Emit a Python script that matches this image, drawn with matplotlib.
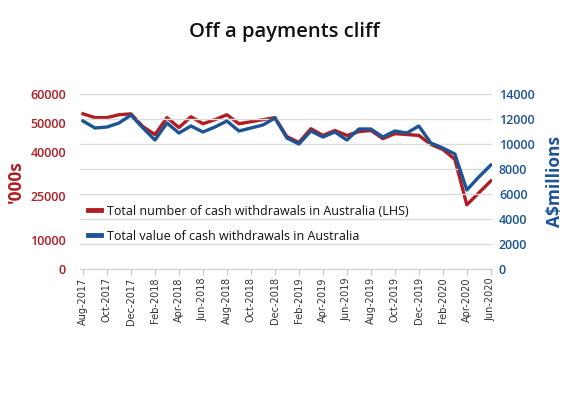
import matplotlib.pyplot as plt

months = ['Aug-2017', 'Sep-2017', 'Oct-2017', 'Nov-2017', 'Dec-2017', 'Jan-2018',
          'Feb-2018', 'Mar-2018', 'Apr-2018', 'May-2018', 'Jun-2018', 'Jul-2018',
          'Aug-2018', 'Sep-2018', 'Oct-2018', 'Nov-2018', 'Dec-2018', 'Jan-2019',
          'Feb-2019', 'Mar-2019', 'Apr-2019', 'May-2019', 'Jun-2019', 'Jul-2019',
          'Aug-2019', 'Sep-2019', 'Oct-2019', 'Nov-2019', 'Dec-2019', 'Jan-2020',
          'Feb-2020', 'Mar-2020', 'Apr-2020', 'May-2020', 'Jun-2020']

# number of withdrawals, '000s (LHS)
withdrawals_number = [53200, 51900, 51900, 52900, 53200, 48800, 46100, 51900, 48500, 52200,
                      49800, 51200, 52900, 49800, 50500, 51200, 51900, 45400, 43400, 48100,
                      45800, 47500, 45800, 47100, 47500, 44700, 46400, 46100, 45800, 42700,
                      41000, 37600, 22000, 26100, 30200]

# value of withdrawals, A$ millions (RHS)
withdrawals_value = [11840, 11280, 11360, 11680, 12320, 11280, 10320, 11680, 10880, 11440,
                     10960, 11360, 11840, 11040, 11280, 11520, 12080, 10480, 10000, 11040,
                     10560, 10960, 10320, 11200, 11200, 10560, 11040, 10880, 11440, 10080,
                     9680, 9200, 6320, 7360, 8320]

left_ticks = [0, 10000, 25000, 40000, 50000, 60000]
right_ticks = [0, 2000, 4000, 6000, 8000, 10000, 12000, 14000]

RED = '#b01e23'
BLUE = '#1d5496'

plt.rcParams['font.family'] = ['Open Sans', 'DejaVu Sans']

fig = plt.figure(figsize=(5.69, 3.98), dpi=100)
ax = fig.add_axes([0.1406, 0.3241, 0.7241, 0.4397])
ax2 = ax.twinx()

x = list(range(len(months)))

ax2.set_ylim(0, 14000)
ax2.set_yticks(right_ticks)
ax2.grid(axis='y', color='#dcdcdc', lw=1)
ax2.set_axisbelow(True)

ax.plot(x, withdrawals_number, color=RED, lw=2.4,
        label='Total number of cash withdrawals in Australia (LHS)')
ax2.plot(x, withdrawals_value, color=BLUE, lw=2.4,
         label='Total value of cash withdrawals in Australia')

ax.set_ylim(0, 60000)
ax.set_yticks(left_ticks)
ax.set_xlim(-0.25, 34.1)
ax.set_xticks(x[::2])
ax.set_xticklabels(months[::2], rotation=90, fontsize=7, color='#333333',
                   family='DejaVu Sans')

for a in (ax, ax2):
    for s in a.spines.values():
        s.set_visible(False)
ax.spines['bottom'].set_visible(True)
ax.spines['bottom'].set_color('#d0d0d0')

ax.tick_params(axis='x', length=4, color='#c8c8c8', pad=2)
ax.tick_params(axis='y', length=0, pad=10, labelsize=9, labelcolor=RED)
ax2.tick_params(axis='y', length=0, pad=5, labelsize=9, labelcolor=BLUE)
for lab in ax.get_yticklabels() + ax2.get_yticklabels():
    lab.set_fontweight(600)

ax.set_ylabel("'000s", color=RED, fontsize=12.5, fontweight='bold', labelpad=4)
ax2.set_ylabel('A$millions', color=BLUE, fontsize=12.5, fontweight='bold', labelpad=8)

h1, l1 = ax.get_legend_handles_labels()
h2, l2 = ax2.get_legend_handles_labels()
leg = ax2.legend(h1 + h2, l1 + l2, loc='upper left', bbox_to_anchor=(0.0, 0.41),
                 frameon=False, fontsize=9, handlelength=1.1, handletextpad=0.45,
                 labelspacing=0.95, borderaxespad=0.2)
for line in leg.get_lines():
    line.set_linewidth(3.5)
for t in leg.get_texts():
    t.set_color('#111111')

fig.text(0.5, 0.92, 'Off a payments cliff', ha='center', va='center',
         fontsize=14.5, fontweight=600, color='#111111')

fig.savefig('out.png', dpi=100, facecolor='white')
